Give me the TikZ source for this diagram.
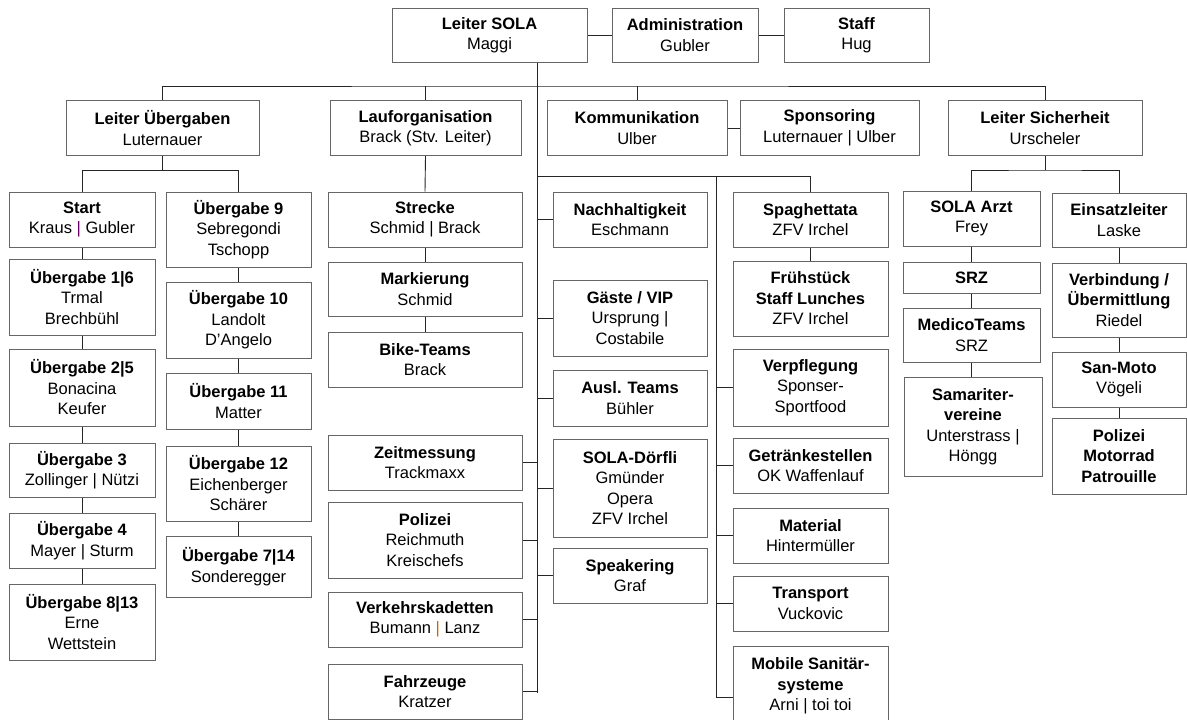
\documentclass[tikz,border=0pt]{standalone}
\usepackage{fontspec}
\setmainfont{Liberation Sans}
\usetikzlibrary{calc}

\begin{document}
\begin{tikzpicture}[x=1pt, y=-1pt,
    box/.style={draw=black!60, line width=1pt, align=center, inner sep=0pt,
        font=\fontsize{16.5}{20.5}\selectfont},
    colA/.style={box, minimum width=146},
    colB/.style={box, minimum width=145},
    colC/.style={box, minimum width=194},
    colD/.style={box, minimum width=154},
    colE/.style={box, minimum width=155},
    colF/.style={box, minimum width=137},
    colG/.style={box, minimum width=134},
    link/.style={line width=0.9pt, black!85}]
\fill[white] (0,0) rectangle (1187,720);
\useasboundingbox (0,0) rectangle (1187,720);
% top row
\node[box, minimum width=195, minimum height=54] (sola) at (489.5,35) {\textbf{Leiter SOLA}\\Maggi};
\node[box, minimum width=146, minimum height=54] (admin) at (685,35) {\textbf{Administration}\\Gubler};
\node[box, minimum width=145, minimum height=54] (staff) at (856.5,35) {\textbf{Staff}\\Hug};
% second row
\node[box, minimum width=193, minimum height=55] (lueb) at (162.5,128) {\textbf{Leiter Übergaben}\\Luternauer};
\node[box, minimum width=191, minimum height=55] (lauf) at (425.5,128) {\textbf{Lauforganisation}\\Brack (Stv. Leiter)};
\node[box, minimum width=180, minimum height=55] (komm) at (637,128) {\textbf{Kommunikation}\\Ulber};
\node[box, minimum width=179, minimum height=55] (spons) at (829.5,128) {\textbf{Sponsoring}\\Luternauer | Ulber};
\node[box, minimum width=194, minimum height=55] (lsich) at (1045,128) {\textbf{Leiter Sicherheit}\\Urscheler};
% Uebergaben
\node[colA, minimum height=55] (start) at (82,219.5) {\textbf{Start}\\Kraus {\color{violet!80!black}|} Gubler};
\node[colA, minimum height=76] (ueb16) at (82,297) {\textbf{Übergabe 1|6}\\Trmal\\Brechbühl};
\node[colA, minimum height=77] (ueb25) at (82,387.5) {\textbf{Übergabe 2|5}\\Bonacina\\Keufer};
\node[colA, minimum height=54] (ueb3) at (82,470) {\textbf{Übergabe 3}\\Zollinger | Nützi};
\node[colA, minimum height=55] (ueb4) at (82,540.5) {\textbf{Übergabe 4}\\Mayer | Sturm};
\node[colA, minimum height=76] (ueb813) at (82,622) {\textbf{Übergabe 8|13}\\Erne\\Wettstein};
\node[colB, minimum height=75] (ueb9) at (238.5,229.5) {\textbf{Übergabe 9}\\Sebregondi\\Tschopp};
\node[colB, minimum height=76] (ueb10) at (238.5,320) {\textbf{Übergabe 10}\\Landolt\\D’Angelo};
\node[colB, minimum height=56] (ueb11) at (238.5,401) {\textbf{Übergabe 11}\\Matter};
\node[colB, minimum height=75] (ueb12) at (238.5,483.5) {\textbf{Übergabe 12}\\Eichenberger\\Schärer};
\node[colB, minimum height=61] (ueb714) at (238.5,566.5) {\textbf{Übergabe 7|14}\\Sonderegger};
% Lauforganisation
\node[colC, minimum height=55] (strecke) at (425,219.5) {\textbf{Strecke}\\Schmid | Brack};
\node[colC, minimum height=54] (mark) at (425,289) {\textbf{Markierung}\\Schmid};
\node[colC, minimum height=55] (bike) at (425,359.5) {\textbf{Bike-Teams}\\Brack};
\node[colC, minimum height=55] (zeit) at (425,462.5) {\textbf{Zeitmessung}\\Trackmaxx};
\node[colC, minimum height=76] (pol) at (425,540) {\textbf{Polizei}\\Reichmuth\\Kreischefs};
\node[colC, minimum height=55] (vkad) at (425,619.5) {\textbf{Verkehrskadetten}\\Bumann {\color{orange!80!black}|} Lanz};
\node[colC, minimum height=55] (fahr) at (425,691.5) {\textbf{Fahrzeuge}\\Kratzer};
% Kommunikation
\node[colD, minimum height=55] (nach) at (630,219.5) {\textbf{Nachhaltigkeit}\\Eschmann};
\node[colD, minimum height=76] (gaeste) at (630,318) {\textbf{Gäste / VIP}\\Ursprung |\\Costabile};
\node[colD, minimum height=56] (ausl) at (630,398) {\textbf{Ausl. Teams}\\Bühler};
\node[colD, minimum height=98] (doerfli) at (630,488) {\textbf{SOLA-Dörfli}\\Gmünder\\Opera\\ZFV Irchel};
\node[colD, minimum height=55] (speak) at (630,575.5) {\textbf{Speakering}\\Graf};
\node[colE, minimum height=55] (spag) at (810.5,219.5) {\textbf{Spaghettata}\\ZFV Irchel};
\node[colE, minimum height=75] (frueh) at (810.5,298.5) {\textbf{Frühstück}\\\textbf{Staff Lunches}\\ZFV Irchel};
\node[colE, minimum height=77] (verpf) at (810.5,387.5) {\textbf{Verpflegung}\\Sponser-\\Sportfood};
\node[colE, minimum height=55] (getr) at (810.5,465.5) {\textbf{Getränkestellen}\\OK Waffenlauf};
\node[colE, minimum height=55] (mat) at (810.5,535.5) {\textbf{Material}\\Hintermüller};
\node[colE, minimum height=55] (trans) at (810.5,603.5) {\textbf{Transport}\\Vuckovic};
\node[colE, minimum height=80] (mobile) at (810.5,686) {\textbf{Mobile Sanitär-}\\\textbf{systeme}\\Arni | toi toi};
% Sicherheit
\node[colF, minimum height=55] (arzt) at (971.5,218.5) {\textbf{SOLA Arzt}\\Frey};
\node[colF, minimum height=31] (srz) at (971.5,277.5) {\textbf{SRZ}};
\node[colF, minimum height=54] (medico) at (971.5,335) {\textbf{MedicoTeams}\\SRZ};
\node[box, minimum width=138, minimum height=99] (samar) at (973,426.5) {\textbf{Samariter-}\\\textbf{vereine}\\Unterstrass |\\Höngg};
\node[colG, minimum height=54] (einsatz) at (1119,220) {\textbf{Einsatzleiter}\\Laske};
\node[colG, minimum height=74] (verb) at (1119,300) {\textbf{Verbindung /}\\\textbf{Übermittlung}\\Riedel};
\node[colG, minimum height=55] (sanmoto) at (1119,379.5) {\textbf{San-Moto}\\Vögeli};
\node[colG, minimum height=76] (polmoto) at (1119,456) {\textbf{Polizei}\\\textbf{Motorrad}\\\textbf{Patrouille}};
% bus lines
\coordinate (topbus) at (537,86);
\coordinate (spineend) at (537,693);
\coordinate (catbus) at (716,176);
\draw[link] (sola.east) -- (admin.west);
\draw[link] (admin.east) -- (staff.west);
\draw[link] (komm.east) -- (spons.west);
\draw[link] (lueb.north) |- (topbus) -| (lsich.north);
\draw[link] (lauf.north) -- (lauf.north |- topbus);
\draw[link] (komm.north) -- (komm.north |- topbus);
\draw[link] (sola.south -| topbus) -- (spineend);
% Uebergaben tree
\draw[link] (lueb.south) -- ++(0,14.5) coordinate (uebbus);
\draw[link] (start.north) |- (uebbus) -| (ueb9.north);
\foreach \a/\b in {start/ueb16,ueb16/ueb25,ueb25/ueb3,ueb3/ueb4,ueb4/ueb813,
    ueb9/ueb10,ueb10/ueb11,ueb11/ueb12,ueb12/ueb714,
    lauf/strecke,strecke/mark,mark/bike,spag/frueh,
    arzt/srz,srz/medico,einsatz/verb,verb/sanmoto,sanmoto/polmoto} {
    \draw[link] (\a.south) -- (\b.north);
}
\draw[link] (medico.south) -- (medico.south |- samar.north);
% stubs on the main spine
\foreach \n in {zeit,pol,vkad,fahr} {
    \draw[link] (\n.east) -- (\n.east -| topbus);
}
\foreach \n in {nach,gaeste,ausl,doerfli,speak} {
    \draw[link] (\n.west) -- (\n.west -| topbus);
}
% catering bus
\draw[link] (catbus -| topbus) -| (spag.north);
\coordinate (mobstub) at ($(mobile.north west)+(0,52)$);
\draw[link] (catbus) -- (catbus |- mobstub);
\foreach \n in {verpf,getr,mat,trans} {
    \draw[link] (\n.west) -- (\n.west -| catbus);
}
\draw[link] (mobstub) -- (mobstub -| catbus);
% Sicherheit tree
\draw[link] (lsich.south) -- ++(0,14) coordinate (sichbus);
\draw[link] (arzt.north) |- (sichbus) -| (einsatz.north);
\end{tikzpicture}
\end{document}
